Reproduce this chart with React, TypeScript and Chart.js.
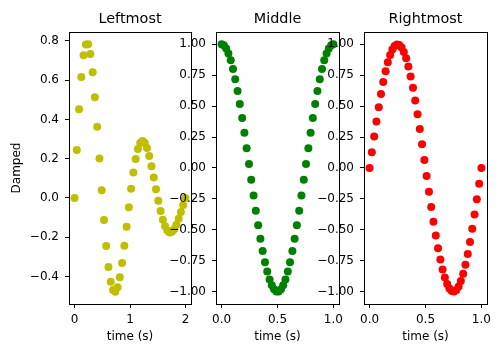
import { useEffect, useRef } from "react";
import { Chart, registerables } from "chart.js";

Chart.register(...registerables);

// ---- data ----
const tLeft = [0, 0.041, 0.082, 0.122, 0.163, 0.204, 0.245, 0.286, 0.327, 0.367, 0.408, 0.449, 0.49, 0.531, 0.571, 0.612, 0.653, 0.694, 0.735, 0.776, 0.816, 0.857, 0.898, 0.939, 0.98, 1.02, 1.061, 1.102, 1.143, 1.184, 1.224, 1.265, 1.306, 1.347, 1.388, 1.429, 1.469, 1.51, 1.551, 1.592, 1.633, 1.673, 1.714, 1.755, 1.796, 1.837, 1.878, 1.918, 1.959, 2.0];
const damped = [0, 0.2435, 0.4522, 0.6156, 0.7263, 0.7817, 0.7824, 0.7326, 0.6397, 0.5127, 0.3628, 0.2011, 0.0393, -0.1125, -0.2451, -0.3514, -0.4269, -0.469, -0.4775, -0.4546, -0.4043, -0.3318, -0.2437, -0.1468, -0.048, 0.0461, 0.1299, 0.1987, 0.2493, 0.28, 0.2901, 0.2809, 0.2542, 0.2133, 0.1618, 0.104, 0.044, -0.0142, -0.0668, -0.1111, -0.1446, -0.1663, -0.1756, -0.1728, -0.1591, -0.1362, -0.1064, -0.072, -0.0358, 0];
const tUnit = [0, 0.02, 0.041, 0.061, 0.082, 0.102, 0.122, 0.143, 0.163, 0.184, 0.204, 0.224, 0.245, 0.265, 0.286, 0.306, 0.327, 0.347, 0.367, 0.388, 0.408, 0.429, 0.449, 0.469, 0.49, 0.51, 0.531, 0.551, 0.571, 0.592, 0.612, 0.633, 0.653, 0.673, 0.694, 0.714, 0.735, 0.755, 0.776, 0.796, 0.816, 0.837, 0.857, 0.878, 0.898, 0.918, 0.939, 0.959, 0.98, 1.0];
const middleVals = [1, 0.9918, 0.9673, 0.9269, 0.8713, 0.8014, 0.7183, 0.6235, 0.5184, 0.4048, 0.2845, 0.1596, 0.0321, -0.096, -0.2225, -0.3454, -0.4625, -0.5721, -0.6723, -0.7615, -0.8381, -0.901, -0.9491, -0.9816, -0.9979, -0.9979, -0.9816, -0.9491, -0.901, -0.8381, -0.7615, -0.6723, -0.5721, -0.4625, -0.3454, -0.2225, -0.096, 0.0321, 0.1596, 0.2845, 0.4048, 0.5184, 0.6235, 0.7183, 0.8014, 0.8713, 0.9269, 0.9673, 0.9918, 1];
const rightVals = [0, 0.1279, 0.2537, 0.3753, 0.4907, 0.5981, 0.6957, 0.7818, 0.8551, 0.9144, 0.9587, 0.9872, 0.9995, 0.9954, 0.9749, 0.9385, 0.8866, 0.8202, 0.7402, 0.6482, 0.5455, 0.4339, 0.3151, 0.1912, 0.0641, -0.0641, -0.1912, -0.3151, -0.4339, -0.5455, -0.6482, -0.7402, -0.8202, -0.8866, -0.9385, -0.9749, -0.9954, -0.9995, -0.9872, -0.9587, -0.9144, -0.8551, -0.7818, -0.6957, -0.5981, -0.4907, -0.3753, -0.2537, -0.1279, 0];

const leftXTicks = [0, 1, 2];
const leftYTicks = [-0.4, -0.2, 0, 0.2, 0.4, 0.6, 0.8];
const unitXTicks = [0, 0.5, 1];
const unitYTicks = [-1, -0.75, -0.5, -0.25, 0, 0.25, 0.5, 0.75, 1];

const FONT = "'DejaVu Sans', sans-serif";

const framePlugin = {
  id: "frame",
  afterDraw(chart: any) {
    const { ctx, chartArea: a } = chart;
    ctx.save();
    ctx.strokeStyle = "#000";
    ctx.lineWidth = 1;
    ctx.strokeRect(Math.round(a.left) + 0.5, Math.round(a.top) + 0.5, Math.round(a.right - a.left), Math.round(a.bottom - a.top));
    ctx.restore();
  },
};

const fmt = (v: number, d: number) => {
  const s = Math.abs(v) < 1e-9 ? (0).toFixed(d) : v.toFixed(d);
  return s.replace("-", "\u2212");
};

type PanelProps = {
  left: number;
  width: number;
  yWidth: number;
  padRight: number;
  title: string;
  yTitle?: string;
  xs: number[];
  ys: number[];
  color: string;
  xMin: number;
  xMax: number;
  yMin: number;
  yMax: number;
  xTicks: number[];
  yTicks: number[];
  xDec: number;
  yDec: number;
};

function Panel(p: PanelProps) {
  const ref = useRef<HTMLCanvasElement>(null);
  useEffect(() => {
    if (!ref.current) return;
    const chart = new Chart(ref.current, {
      type: "scatter",
      data: {
        datasets: [
          {
            data: p.xs.map((x, i) => ({ x, y: p.ys[i] })),
            backgroundColor: p.color,
            borderWidth: 0,
            pointRadius: 4,
            pointHoverRadius: 4,
          },
        ],
      },
      options: {
        animation: false,
        responsive: false,
        events: [],
        layout: { padding: { left: 0, right: p.padRight, top: 0, bottom: 0 } },
        plugins: {
          legend: { display: false },
          tooltip: { enabled: false },
          title: {
            display: true,
            text: p.title,
            fullSize: false,
            color: "#000",
            font: { family: FONT, size: 14.4, weight: "normal" },
            padding: { top: 11, bottom: 3.7 },
          },
        },
        scales: {
          x: {
            type: "linear",
            min: p.xMin,
            max: p.xMax,
            afterBuildTicks: (s: any) => {
              s.ticks = p.xTicks.map((v) => ({ value: v }));
            },
            afterFit: (s: any) => {
              s.height = 45;
            },
            grid: { display: true, drawOnChartArea: false, drawTicks: true, tickLength: 4, color: "#000", lineWidth: 1 },
            border: { display: false },
            ticks: {
              color: "#000",
              padding: 5,
              maxRotation: 0,
              font: { family: FONT, size: 12 },
              callback: (v: any) => fmt(Number(v), p.xDec),
            },
            title: {
              display: true,
              text: "time (s)",
              color: "#000",
              font: { family: FONT, size: 12 },
              padding: { top: 0, bottom: 4.5 },
            },
          },
          y: {
            type: "linear",
            min: p.yMin,
            max: p.yMax,
            afterBuildTicks: (s: any) => {
              s.ticks = p.yTicks.map((v) => ({ value: v }));
            },
            afterFit: (s: any) => {
              s.width = p.yWidth;
            },
            grid: { display: true, drawOnChartArea: false, drawTicks: true, tickLength: 4, color: "#000", lineWidth: 1 },
            border: { display: false },
            ticks: {
              color: "#000",
              padding: 6,
              font: { family: FONT, size: 12 },
              callback: (v: any) => fmt(Number(v), p.yDec),
            },
            title: {
              display: !!p.yTitle,
              text: p.yTitle || "",
              color: "#000",
              font: { family: FONT, size: 12 },
              padding: { top: 10, bottom: 0 },
            },
          },
        },
      } as any,
      plugins: [framePlugin],
    });
    return () => chart.destroy();
  }, []);
  return (
    <canvas
      ref={ref}
      width={p.width}
      height={349}
      style={{ position: "absolute", left: p.left, top: 0, width: p.width, height: 349 }}
    />
  );
}

export default function App() {
  return (
    <div style={{ position: "absolute", left: 0, top: 0, width: 500, height: 349, background: "#fff", overflow: "hidden" }}>
      <Panel
        left={0}
        width={200}
        yWidth={69}
        padRight={9}
        title="Leftmost"
        yTitle="Damped"
        xs={tLeft}
        ys={damped}
        color="#bfbf00"
        xMin={-0.1}
        xMax={2.1}
        yMin={-0.5405}
        yMax={0.8454}
        xTicks={leftXTicks}
        yTicks={leftYTicks}
        xDec={0}
        yDec={1}
      />
      <Panel
        left={150}
        width={200}
        yWidth={66}
        padRight={11}
        title="Middle"
        xs={tUnit}
        ys={middleVals}
        color="#008000"
        xMin={-0.05}
        xMax={1.05}
        yMin={-1.1}
        yMax={1.1}
        xTicks={unitXTicks}
        yTicks={unitYTicks}
        xDec={1}
        yDec={2}
      />
      <Panel
        left={297}
        width={203}
        yWidth={67}
        padRight={13}
        title="Rightmost"
        xs={tUnit}
        ys={rightVals}
        color="#ff0000"
        xMin={-0.05}
        xMax={1.05}
        yMin={-1.1}
        yMax={1.1}
        xTicks={unitXTicks}
        yTicks={unitYTicks}
        xDec={1}
        yDec={2}
      />
    </div>
  );
}
